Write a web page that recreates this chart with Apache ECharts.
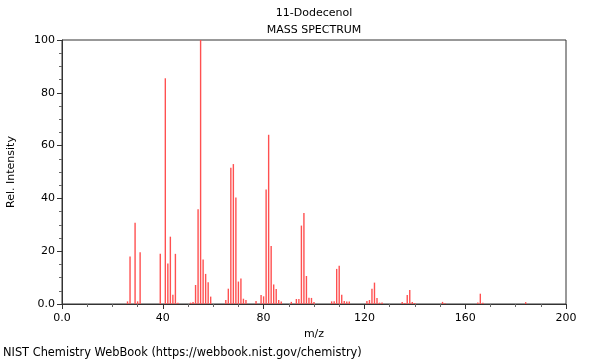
<!DOCTYPE html>
<html>
<head>
<meta charset="utf-8">
<script src="https://cdn.jsdelivr.net/npm/echarts@6/dist/echarts.min.js"></script>
<style>html,body{margin:0;padding:0;background:#fff}#c{width:600px;height:360px}</style>
</head>
<body>
<div id="c"></div>
<script>
const mz = [26,27,29,30,31,39,41,42,43,44,45,46,51,52,53,54,55,56,57,58,59,65,66,67,68,69,70,71,72,73,77,79,80,81,82,83,84,85,86,87,91,93,94,95,96,97,98,99,100,107,108,109,110,111,112,113,114,121,122,123,124,125,126,127,135,136,137,138,139,140,151,152,165,166,167,184];
const intensity = [1,18,30.8,1,19.6,19,85.5,15.3,25.5,3.5,19,0.5,0.5,0.8,7.2,35.9,100,16.9,11.4,8.2,2.8,1.5,5.8,51.6,53,40.3,8.5,9.7,2,1.5,1.1,3.4,2.9,43.4,64.1,22,7.4,5.7,1.5,0.9,0.8,1.9,1.9,29.7,34.5,10.6,2.4,2.3,0.8,1,1,13.3,14.5,3.5,1.1,0.9,0.9,1.1,1.5,5.8,8.1,2.3,0.5,0.6,0.8,0.4,3.4,5.3,0.8,0.4,0.8,0.3,0.6,3.9,0.5,0.7];
const xTicks = [0,40,80,120,160,200];
const yTicks = [0,20,40,60,80,100];

const font = 'DejaVu Sans';
const txt = (x,y,text,align,size)=>({type:'text',x:x,y:y,silent:true,style:{text:text,fill:'#000',font:size+'px "DejaVu Sans"',textAlign:align,textVerticalAlign:'middle'}});
const chart = echarts.init(document.getElementById('c'), null, {renderer:'canvas'});
chart.setOption({
  animation:false,
  backgroundColor:'#fff',
  graphic:[
    txt(314,13,'11-Dodecenol','center',11),
    txt(314,30,'MASS SPECTRUM','center',11),
    txt(3,353,'NIST Chemistry WebBook (https://webbook.nist.gov/chemistry)','left',11.4)
  ],
  grid:{left:62,right:34,top:40,bottom:56,outerBoundsMode:'none',containLabel:false,show:true,borderColor:'#333',borderWidth:1,backgroundColor:'transparent'},
  xAxis:{type:'value',min:0,max:200,interval:40,
    name:'m/z',nameLocation:'middle',nameGap:25,nameTextStyle:{fontFamily:font,fontSize:11,color:'#000'},
    axisLine:{show:true,lineStyle:{color:'#333'}},
    axisTick:{show:true,length:5,lineStyle:{color:'#333'}},
    minorTick:{show:true,splitNumber:4,length:3,lineStyle:{color:'#666'}},
    splitLine:{show:false},
    axisLabel:{fontFamily:font,fontSize:11,color:'#000',margin:9,formatter:v=>xTicks.includes(v)?(v===0?'0.0':String(v)):''}},
  yAxis:{type:'value',min:0,max:100,interval:20,
    name:'Rel. Intensity',nameLocation:'middle',nameGap:45,nameRotate:90,nameTextStyle:{fontFamily:font,fontSize:11,color:'#000'},
    axisLine:{show:true,lineStyle:{color:'#333'}},
    axisTick:{show:true,length:5,lineStyle:{color:'#333'}},
    minorTick:{show:true,splitNumber:4,length:3,lineStyle:{color:'#666'}},
    splitLine:{show:false},
    axisLabel:{fontFamily:font,fontSize:11,color:'#000',margin:7,formatter:v=>yTicks.includes(v)?(v===0?'0.0':String(v)):''}},
  series:[{type:'bar',barWidth:1.4,barGap:'-100%',
    itemStyle:{color:'#ff5050'},
    data:mz.map((m,i)=>[m,intensity[i]])}]
});
</script>
</body>
</html>
